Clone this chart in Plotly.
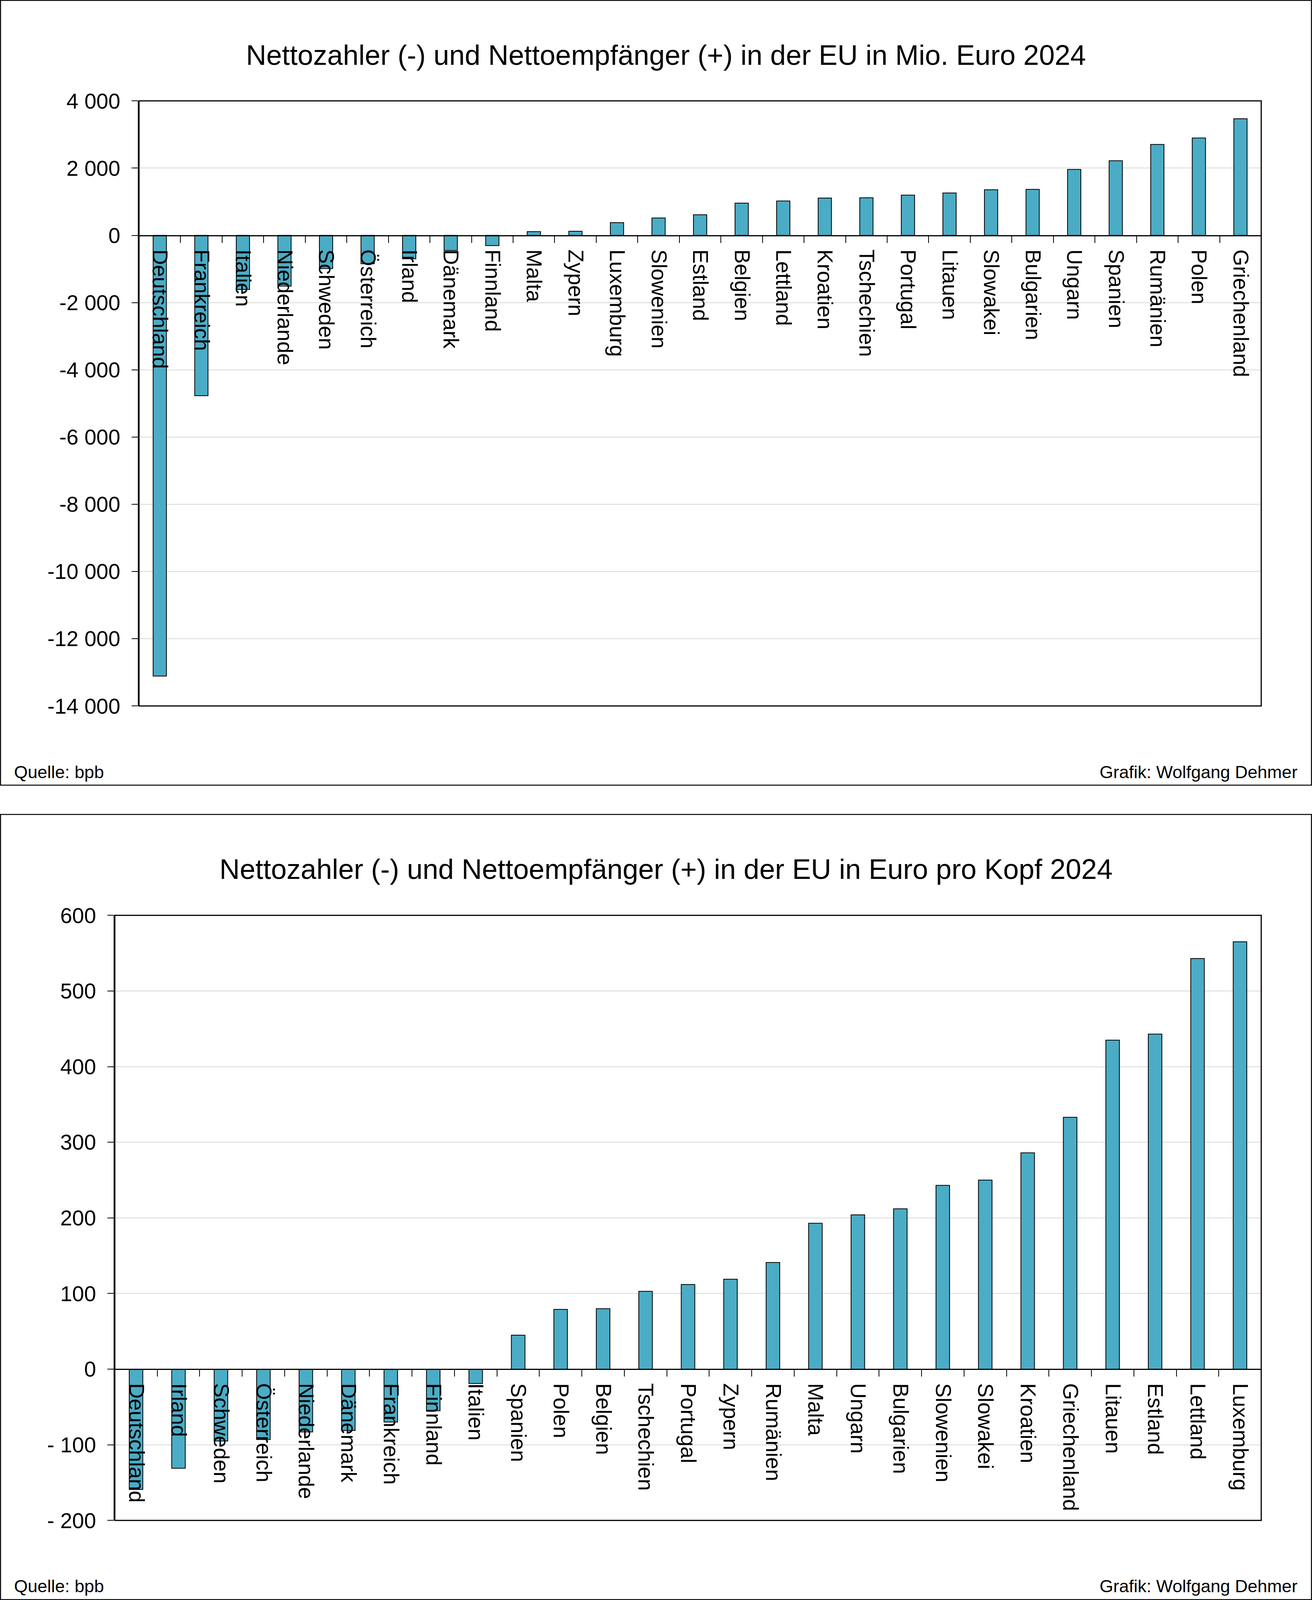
import plotly.graph_objects as go

# ---------------- data ----------------
cats_mio = ["Deutschland", "Frankreich", "Italien", "Niederlande", "Schweden", "Österreich",
            "Irland", "Dänemark", "Finnland", "Malta", "Zypern", "Luxemburg", "Slowenien",
            "Estland", "Belgien", "Lettland", "Kroatien", "Tschechien", "Portugal", "Litauen",
            "Slowakei", "Bulgarien", "Ungarn", "Spanien", "Rumänien", "Polen", "Griechenland"]
vals_mio = [-13110, -4771, -1609, -1509, -987, -844, -696, -450, -305, 111, 122, 377, 517,
            614, 959, 1023, 1110, 1120, 1196, 1260, 1357, 1368, 1961, 2219, 2704, 2898, 3469]

cats_kopf = ["Deutschland", "Irland", "Schweden", "Österreich", "Niederlande", "Dänemark",
             "Frankreich", "Finnland", "Italien", "Spanien", "Polen", "Belgien", "Tschechien",
             "Portugal", "Zypern", "Rumänien", "Malta", "Ungarn", "Bulgarien", "Slowenien",
             "Slowakei", "Kroatien", "Griechenland", "Litauen", "Estland", "Lettland", "Luxemburg"]
vals_kopf = [-159, -131, -95, -93, -83, -81, -70, -55, -19, 45, 79, 80, 103, 112, 119, 141,
             193, 204, 212, 243, 250, 286, 333, 435, 443, 543, 565]

yticks_mio = [4000, 2000, 0, -2000, -4000, -6000, -8000, -10000, -12000, -14000]
ytext_mio = ["4 000", "2 000", "0", "-2 000", "-4 000", "-6 000", "-8 000", "-10 000",
             "-12 000", "-14 000"]
yticks_kopf = [600, 500, 400, 300, 200, 100, 0, -100, -200]
ytext_kopf = ["600", "500", "400", "300", "200", "100", "0", "- 100", "- 200"]

title_mio = "Nettozahler (-) und Nettoempfänger (+) in der EU in Mio. Euro 2024"
title_kopf = "Nettozahler (-) und Nettoempfänger (+) in der EU in Euro pro Kopf 2024"
source_text = "Quelle: bpb"
credit_text = "Grafik: Wolfgang Dehmer"

# ---------------- layout constants (reference pixel grid 3360 x 4424) ----------------
W, H = 3360, 4424
FONT = "Liberation Sans, Arial, sans-serif"
BAR_COLOR = "#4BACC6"
GRID = "#d9d9d9"

def py(px_from_top):
    return (H - px_from_top) / H

dom1_y = [py(1952), py(279)]
dom1_x = [356 / W, 3230 / W]
dom2_y = [py(4204), py(2531)]
dom2_x = [294 / W, 3230 / W]
rng1 = [-14000, 4000]
rng2 = [-200, 600]

def zero_pos(dom, rng):
    return dom[0] + (0 - rng[0]) / (rng[1] - rng[0]) * (dom[1] - dom[0])

fig = go.Figure()
fig.add_trace(go.Bar(x=cats_mio, y=vals_mio, xaxis="x", yaxis="y",
                     marker=dict(color=BAR_COLOR, line=dict(color="black", width=2)),
                     showlegend=False, hoverinfo="x+y"))
fig.add_trace(go.Bar(x=cats_kopf, y=vals_kopf, xaxis="x2", yaxis="y2",
                     marker=dict(color=BAR_COLOR, line=dict(color="black", width=2)),
                     showlegend=False, hoverinfo="x+y"))

xcommon = dict(type="category", showgrid=False, zeroline=False, showline=True,
               linecolor="black", linewidth=3, ticks="outside", ticklen=17,
               tickwidth=2, tickcolor="black", tickson="boundaries", tickangle=90,
               tickfont=dict(family=FONT, size=55, color="black"),
               ticklabelstandoff=23, layer="above traces", fixedrange=True,
               automargin=False)
ycommon = dict(showgrid=True, gridcolor=GRID, gridwidth=2, zeroline=False,
               showline=True, linecolor="black", linewidth=3, ticks="outside",
               ticklen=16, tickwidth=2, tickcolor="black",
               tickfont=dict(family=FONT, size=55, color="black"),
               ticklabelstandoff=18, fixedrange=True, automargin=False)

fig.update_layout(
    autosize=True,
    margin=dict(l=0, r=0, t=0, b=0, pad=0, autoexpand=False),
    paper_bgcolor="white", plot_bgcolor="white",
    bargap=0.68,
    xaxis=dict(xcommon, domain=dom1_x, anchor="free", position=zero_pos(dom1_y, rng1)),
    yaxis=dict(ycommon, domain=dom1_y, anchor="x", range=rng1,
               tickvals=yticks_mio, ticktext=ytext_mio),
    xaxis2=dict(xcommon, domain=dom2_x, anchor="free", position=zero_pos(dom2_y, rng2)),
    yaxis2=dict(ycommon, domain=dom2_y, anchor="x2", range=rng2,
                tickvals=yticks_kopf, ticktext=ytext_kopf),
)

shapes = []
# plot-area frames
for xr, yr in (("x domain", "y domain"), ("x2 domain", "y2 domain")):
    shapes.append(dict(type="rect", xref=xr, yref=yr, x0=0, x1=1, y0=0, y1=1,
                       line=dict(color="black", width=3), layer="above"))
# outer panel boxes
shapes.append(dict(type="rect", xref="paper", yref="paper", x0=0.0004, x1=0.9996,
                   y0=py(2171), y1=py(1), line=dict(color="black", width=2.5)))
shapes.append(dict(type="rect", xref="paper", yref="paper", x0=0.0004, x1=0.9996,
                   y0=py(4423), y1=py(2252), line=dict(color="black", width=2.5)))
fig.update_layout(shapes=shapes)

ann = []
ann.append(dict(text=title_mio, xref="paper", yref="paper", x=1705 / W, y=py(152),
                xanchor="center", yanchor="middle", showarrow=False,
                font=dict(family=FONT, size=72, color="black")))
ann.append(dict(text=title_kopf, xref="paper", yref="paper", x=1705 / W, y=py(2403),
                xanchor="center", yanchor="middle", showarrow=False,
                font=dict(family=FONT, size=72, color="black")))
for ycen in (2135, 4386):
    ann.append(dict(text=source_text, xref="paper", yref="paper", x=34 / W, y=py(ycen),
                    xanchor="left", yanchor="middle", showarrow=False,
                    font=dict(family=FONT, size=45, color="black")))
    ann.append(dict(text=credit_text, xref="paper", yref="paper", x=3325 / W, y=py(ycen),
                    xanchor="right", yanchor="middle", showarrow=False,
                    font=dict(family=FONT, size=45, color="black")))
fig.update_layout(annotations=ann)

fig.write_html(
    "out.html",
    config={"displayModeBar": False, "responsive": True},
    default_width="100%",
    default_height="100vh",
    post_script="document.body.style.margin='0';document.body.style.padding='0';"
                "document.documentElement.style.margin='0';"
                "document.documentElement.style.overflow='hidden';"
                "var gd=document.getElementById('{plot_id}');"
                "gd.style.width='100vw';gd.style.height='100vh';"
                "Plotly.Plots.resize(gd);",
)
